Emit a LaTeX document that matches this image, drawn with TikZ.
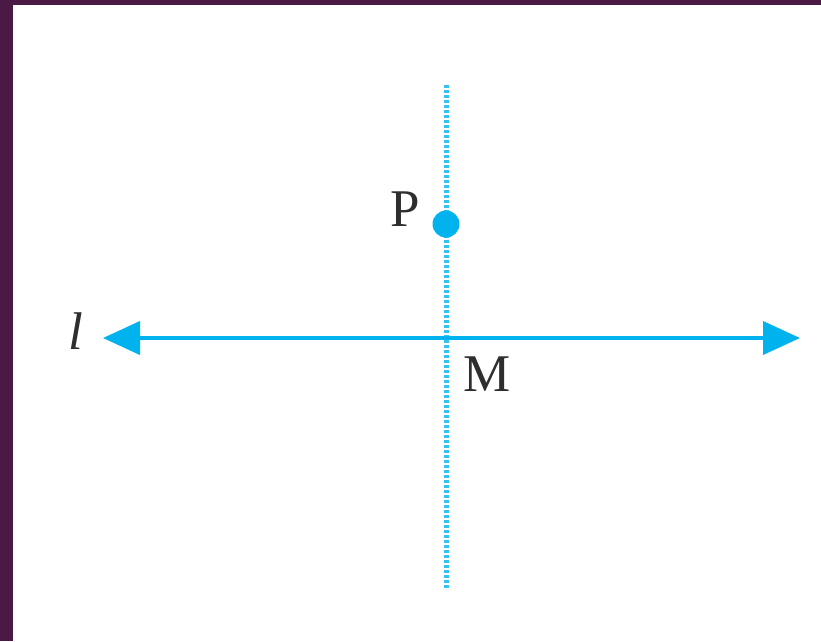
\documentclass[tikz,border=0pt]{standalone}
\usepackage{fontspec}
\setmainfont{Liberation Serif}
\usepackage{xcolor}
\usepackage{tikz}
\usetikzlibrary{arrows.meta}
\definecolor{BgPlum}{HTML}{4A1A45}
\definecolor{LineSky}{HTML}{00B3EF}
\definecolor{LabelGrey}{HTML}{2E2E2E}
\begin{document}
\begin{tikzpicture}[x=1pt,y=-1pt,every node/.style={text=LabelGrey,font=\fontsize{53}{60}\selectfont}]
\fill[BgPlum] (0,0) rectangle (821,641);\fill[white] (13,5) rectangle (821,641);
\useasboundingbox (0,0) rectangle (821,641);
\coordinate (top) at (446,85);\coordinate (bot) at (446,588);
\coordinate (lend) at (103,338);\coordinate (rend) at (800,338);
\draw[LineSky!80,line width=5pt,dash pattern=on 3pt off 2pt] (top)--(bot);
\draw[LineSky,line width=4pt,{Triangle[length=37pt,width=33pt]}-{Triangle[length=37pt,width=33pt]}] (lend)--(rend);
\node[circle,fill=LineSky,inner sep=0pt,minimum size=27pt] (P) at (446,224) {};
\node (Plab) at (405,209) {P};\node (M) at (487,374) {M};\node (lab) at (76,331) {\textit{l}};
\end{tikzpicture}
\end{document}
